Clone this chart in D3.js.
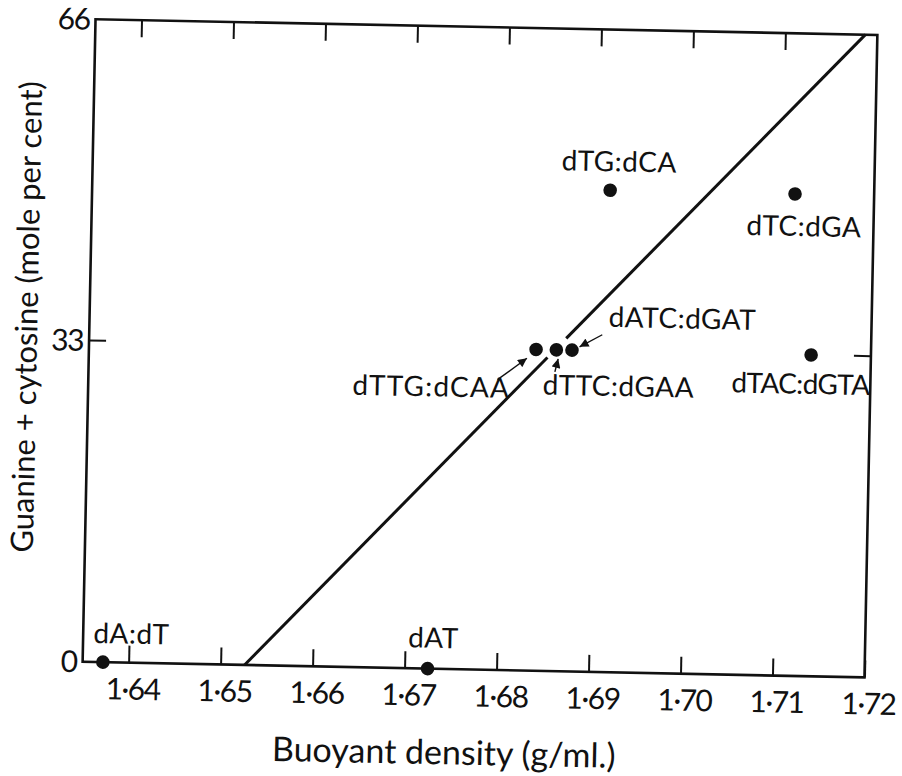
<!DOCTYPE html>
<html><head><meta charset="utf-8">
<script src="https://cdn.jsdelivr.net/npm/d3@7"></script>
<style>
html,body{margin:0;padding:0;background:#fff;}
svg{display:block;}
text{font-family:Lato,"Open Sans",sans-serif;fill:#111;}
</style></head>
<body>
<svg id="chart" width="902" height="776"></svg>
<script>
// ---- data ----
const pointLabels = ["dA:dT","dAT","dTG:dCA","dTC:dGA","dTAC:dGTA","dTTG:dCAA","dTTC:dGAA","dATC:dGAT"];
const density     = [1.6372, 1.6725, 1.6913, 1.7114, 1.7135, 1.6836, 1.6858, 1.6875];
const gcContent   = [0, 0, 49.5, 49.5, 33, 33, 33, 33];

// fitted line drawn in two pieces (gap around the central dots)
const lineDensity = [1.6526, 1.68485, 1.68685, 1.7187];
const lineGC      = [0, 32.2, 34.2, 66];

const xTickValues = [1.64,1.65,1.66,1.67,1.68,1.69,1.70,1.71,1.72];
const xTickLabels = ["1·64","1·65","1·66","1·67","1·68","1·69","1·70","1·71","1·72"];
const yTickValues = [0,33,66];
const yTickLabels = ["0","33","66"];

const xTitle = "Buoyant density (g/ml.)";
const yTitle = "Guanine + cytosine (mole per cent)";

// ---- layout ----
const L = 89, R = 871, T = 27, B = 669.6;
const x = d3.scaleLinear().domain([1.635, 1.72]).range([L, R]);
const y = d3.scaleLinear().domain([0, 66]).range([B, T]);

const svg = d3.select("#chart");
const defs = svg.append("defs");
defs.append("marker").attr("id","ah").attr("markerUnits","userSpaceOnUse")
  .attr("viewBox","0 0 10 10").attr("refX",10).attr("refY",5)
  .attr("markerWidth",10).attr("markerHeight",9).attr("orient","auto")
  .append("path").attr("d","M0,0 L10,5 L0,10 Z").attr("fill","#111");

const g = svg.append("g").attr("transform","rotate(1.15,480,348)");

// frame
g.append("rect").attr("x",L).attr("y",T).attr("width",R-L).attr("height",B-T)
  .attr("fill","none").attr("stroke","#111").attr("stroke-width",2.6);

// bottom axis ticks + labels
const xAxis = d3.axisBottom(x).tickValues(xTickValues)
  .tickFormat((d,i)=>xTickLabels[i]).tickSizeInner(-17).tickSizeOuter(0).tickPadding(0);
const gx = g.append("g").attr("transform",`translate(0,${B})`).call(xAxis);
gx.select(".domain").remove();
gx.selectAll(".tick line").attr("stroke","#111").attr("stroke-width",2);
gx.selectAll(".tick text").attr("font-family","Lato").attr("font-size",30)
  .attr("letter-spacing",-1.5).attr("fill","#111").attr("dx",4).attr("y",37).attr("dy",0);

// top axis ticks
const xAxisTop = d3.axisTop(x).tickValues(xTickValues.slice(0,-1)).tickFormat("")
  .tickSizeInner(-17).tickSizeOuter(0);
const gt = g.append("g").attr("transform",`translate(0,${T})`).call(xAxisTop);
gt.select(".domain").remove();
gt.selectAll(".tick line").attr("stroke","#111").attr("stroke-width",2);

// left axis
const yAxis = d3.axisLeft(y).tickValues(yTickValues).tickFormat((d,i)=>yTickLabels[i])
  .tickSizeInner(0).tickSizeOuter(0).tickPadding(6);
const gy = g.append("g").attr("transform",`translate(${L},0)`).call(yAxis);
gy.select(".domain").remove();
gy.selectAll(".tick text").attr("font-family","Lato").attr("font-size",30)
  .attr("letter-spacing",-1.5).attr("fill","#111").attr("dy",10);
// inner tick at 33 on left and right
g.append("line").attr("x1",L).attr("x2",L+17).attr("y1",y(33)).attr("y2",y(33))
  .attr("stroke","#111").attr("stroke-width",2);
g.append("line").attr("x1",R).attr("x2",R-17).attr("y1",y(33)).attr("y2",y(33))
  .attr("stroke","#111").attr("stroke-width",2);

// fitted line
const segs = [[0,1],[2,3]];
segs.forEach(([a,b])=>{
  g.append("line").attr("x1",x(lineDensity[a])).attr("y1",y(lineGC[a]))
    .attr("x2",x(lineDensity[b])).attr("y2",y(lineGC[b]))
    .attr("stroke","#111").attr("stroke-width",3);
});

// points
g.selectAll("circle.pt").data(density).join("circle").attr("class","pt")
  .attr("cx",d=>x(d)).attr("cy",(d,i)=>y(gcContent[i])).attr("r",6.8).attr("fill","#111");

// label offsets (pixels, relative to each point) and letter spacing
const labelOffset = [[-10,-19],[-20,-21],[-49,-19],[-48,42],[-79,39],[-183,49],[-13,45],[36,-24]];
const labelSpacing = [0.5,0.5,0.5,0.5,-0.6,1.2,0.5,0.5];
g.selectAll("text.lab").data(pointLabels).join("text").attr("class","lab")
  .attr("x",(d,i)=>x(density[i])+labelOffset[i][0])
  .attr("y",(d,i)=>y(gcContent[i])+labelOffset[i][1])
  .attr("font-size",28).attr("letter-spacing",(d,i)=>labelSpacing[i])
  .text(d=>d);

// arrows: [point index, tail dx, tail dy, head dx, head dy]
const arrows = [[5,-38,31,-9,9],[6,-1,22,2,9],[7,30,-16,7.5,-3.5]];
arrows.forEach(([i,tx,ty,hx,hy])=>{
  const px = x(density[i]), py = y(gcContent[i]);
  g.append("line").attr("x1",px+tx).attr("y1",py+ty).attr("x2",px+hx).attr("y2",py+hy)
    .attr("stroke","#111").attr("stroke-width",1.4).attr("marker-end","url(#ah)");
});

// axis titles
g.append("text").attr("x",452).attr("y",765).attr("text-anchor","middle")
  .attr("font-size",34).text(xTitle);
g.append("text").attr("transform","translate(37,326) rotate(-90)").attr("text-anchor","middle")
  .attr("font-size",31).text(yTitle);
</script>
</body></html>
